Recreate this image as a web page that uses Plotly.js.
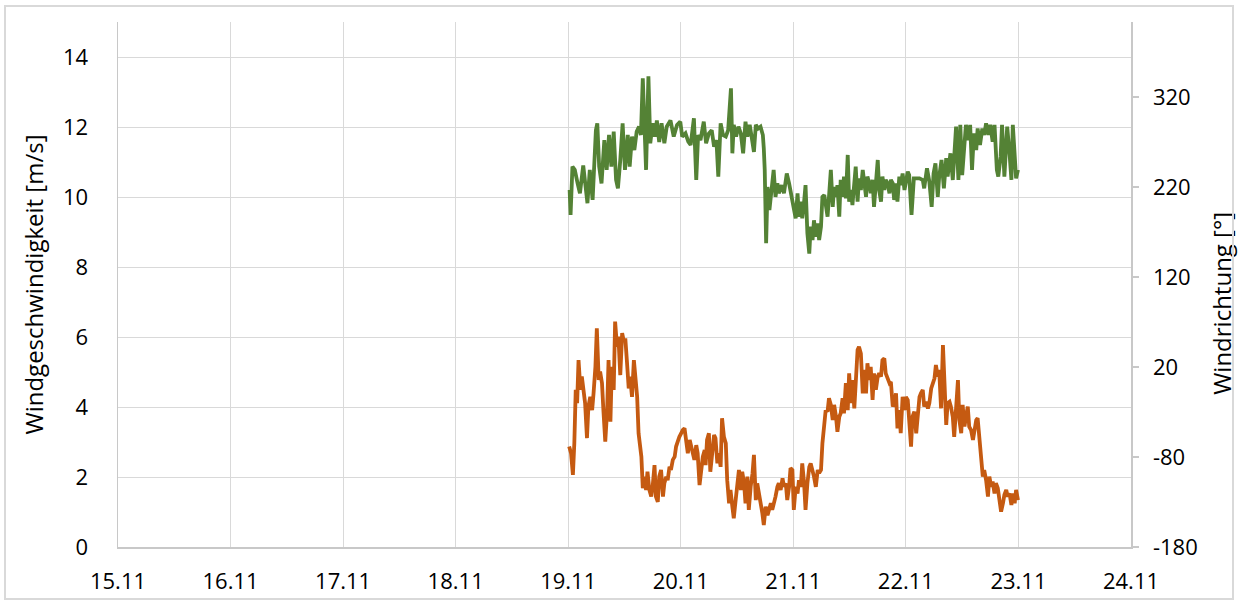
<!DOCTYPE html>
<html>
<head>
<meta charset="utf-8">
<script src="https://cdn.plot.ly/plotly-3.0.1.min.js"></script>
<style>
  html, body { margin: 0; padding: 0; background: #fff; }
  #wrap { position: relative; width: 1238px; height: 604px; }
  #chart { position: absolute; left: 0; top: 0; width: 1238px; height: 604px; }
  #frame { position: absolute; left: 4px; top: 5px; width: 1230px; height: 595px; box-sizing: border-box; border: 2px solid #d9d9d9; pointer-events: none; }
</style>
</head>
<body>
<div id="wrap"><div id="chart"></div><div id="frame"></div></div>
<script>
// Hours since 19.11 00:00 and wind speed [m/s]
const speedHours = [0.2,0.6,1.0,1.3,1.6,1.9,2.2,2.6,2.9,3.3,3.6,4.0,4.3,4.7,5.1,5.4,5.8,6.1,6.5,6.8,7.2,7.5,7.9,8.3,8.6,9.0,9.3,9.7,10.0,10.4,10.7,11.1,11.5,11.8,12.2,12.5,12.9,13.2,13.6,14.0,14.3,14.7,15.0,15.6,15.9,16.2,16.6,16.9,17.3,17.7,18.0,18.4,18.7,19.1,19.4,19.8,20.2,20.5,20.9,21.2,21.6,21.9,22.3,22.7,23.0,23.4,23.7,24.1,24.4,24.8,25.2,25.5,25.9,26.2,26.6,26.9,27.3,27.6,28.0,28.4,28.7,29.1,29.3,29.6,30.0,30.3,30.7,31.1,31.4,31.8,32.1,32.5,32.8,33.2,33.6,33.9,34.3,34.6,35.0,35.3,35.7,36.1,36.4,36.8,37.1,37.5,37.8,38.2,38.5,38.9,39.3,39.6,40.0,40.3,40.7,41.0,41.4,41.7,42.1,42.5,42.8,43.2,43.5,43.9,44.2,44.6,44.9,45.3,45.7,46.0,46.4,46.7,47.1,47.4,47.8,48.1,48.5,48.9,49.2,49.6,49.9,50.3,50.6,51.0,51.4,51.7,52.1,52.4,52.8,53.2,53.5,53.9,54.2,54.6,54.9,55.3,55.6,56.0,56.4,56.7,57.1,57.4,57.8,58.1,58.5,58.8,59.2,59.6,59.9,60.3,60.6,61.0,61.3,61.7,62.0,62.4,62.8,63.1,63.5,63.8,64.2,64.5,64.9,65.2,65.6,66.0,66.3,66.7,67.0,67.4,67.7,68.1,68.5,68.8,69.2,69.5,69.9,70.2,70.6,70.9,71.3,71.7,72.0,72.4,72.7,73.1,73.4,73.8,74.2,74.5,74.9,75.2,75.6,75.9,76.3,76.7,77.0,77.4,77.7,78.1,78.4,78.8,79.1,79.5,79.9,80.2,80.6,80.9,81.3,81.6,82.0,82.3,82.7,83.1,83.4,83.8,84.1,84.5,84.8,85.2,85.5,85.9,86.3,86.6,87.0,87.3,87.7,88.0,88.4,88.7,89.1,89.5,89.8,90.2,90.5,90.9,91.2,91.6,92.0,92.3,92.7,93.0,93.4,93.7,94.1,94.5,94.8,95.2,95.5,95.9];
const speedValues = [2.87,2.68,2.06,2.96,4.49,4.11,5.34,4.49,4.87,4.29,4.11,3.11,4.01,4.29,3.91,4.39,5.15,6.25,4.77,5.01,4.68,3.91,3.01,3.91,5.34,3.58,5.15,4.49,6.44,5.72,6.01,4.91,6.11,5.91,5.91,5.34,4.53,4.87,4.29,5.34,4.87,4.29,3.25,2.58,1.68,2.01,1.63,2.15,1.63,1.44,1.72,2.34,1.44,1.29,2.01,2.2,1.44,1.82,2.01,1.91,2.29,2.2,2.49,2.58,2.87,3.06,3.15,3.25,3.34,3.39,2.87,2.68,3.06,2.87,2.58,2.49,2.91,2.68,1.77,2.29,2.58,2.77,2.34,3.06,3.25,2.15,2.77,3.2,3.11,2.39,2.68,2.29,3.68,3.15,2.96,1.91,1.25,1.63,1.15,0.82,1.34,1.72,2.2,1.63,2.15,1.82,1.25,2.01,1.06,1.72,2.11,2.63,1.34,1.82,1.53,1.34,0.96,0.63,1.15,0.91,1.06,1.25,1.06,1.25,1.44,1.72,1.82,1.63,1.96,1.72,1.82,1.34,1.72,2.25,2.2,1.06,1.72,1.53,1.91,1.72,2.39,1.82,1.06,1.82,2.29,2.39,2.2,2.01,1.72,2.2,2.11,2.2,2.96,3.72,3.91,3.87,4.25,4.06,3.63,4.06,3.72,3.29,3.72,3.82,4.25,3.82,4.68,3.91,4.96,4.11,4.77,3.96,4.77,5.63,5.72,5.53,4.39,5.06,4.39,5.25,4.77,5.15,4.2,4.96,4.49,4.87,4.96,4.87,5.34,5.39,4.96,4.77,4.68,4.72,4.01,4.11,4.39,3.39,3.91,3.25,4.29,3.91,4.29,4.2,3.72,2.87,3.72,3.87,3.25,3.82,4.29,4.39,4.49,4.01,4.15,3.96,4.11,4.53,4.63,4.82,5.2,4.87,5.06,3.96,5.77,4.77,3.49,4.11,4.15,4.01,3.72,3.15,3.82,4.77,3.63,3.25,4.06,3.44,3.72,4.01,3.44,3.34,3.06,3.25,3.63,3.68,3.15,2.77,2.01,2.2,1.91,1.44,2.01,1.72,1.87,1.53,1.82,1.68,1.25,1.01,1.25,1.49,1.63,1.44,1.53,1.2,1.53,1.25,1.63,1.34];

// Hours since 19.11 00:00 and wind direction [°]
const dirHours = [0.3,0.5,0.9,1.4,2.0,2.5,3.2,3.5,4.1,4.6,5.2,5.5,5.9,6.2,6.6,7.1,7.7,8.2,8.7,9.2,9.7,10.2,10.6,11.1,11.6,12.1,12.7,13.1,13.6,14.1,14.6,15.1,15.5,15.9,16.2,16.6,17.1,17.5,18.0,18.5,18.9,19.4,19.9,20.5,21.0,21.8,22.5,23.2,23.9,24.3,25.0,25.6,26.1,26.8,27.3,27.7,28.2,28.9,29.4,30.0,30.6,31.1,31.6,32.0,32.5,33.0,33.6,34.1,34.7,35.0,35.3,35.8,36.3,36.8,37.3,37.8,38.2,38.7,39.1,39.6,40.0,40.5,41.0,41.5,41.7,41.9,42.2,42.5,42.9,43.4,43.8,44.2,44.6,44.9,45.5,46.0,46.6,47.1,47.7,48.1,48.5,48.9,49.2,49.6,49.9,50.3,50.6,51.0,51.4,51.7,52.1,52.4,52.8,53.2,53.5,53.9,54.2,54.6,54.9,55.3,55.6,56.0,56.4,56.7,57.1,57.4,57.8,58.1,58.5,58.8,59.2,59.6,59.9,60.3,60.6,61.0,61.3,61.7,62.0,62.4,62.8,63.1,63.5,63.8,64.2,64.5,64.9,65.2,65.6,66.0,66.3,66.7,67.0,67.4,67.7,68.1,68.5,68.8,69.2,69.5,69.9,70.2,70.6,70.9,71.3,71.7,72.4,72.7,73.2,73.7,74.2,74.9,75.6,75.9,76.5,77.0,77.5,77.9,78.3,78.8,79.1,79.6,80.1,80.6,80.9,81.5,82.0,82.3,82.7,83.2,83.6,84.0,84.5,84.8,85.3,85.7,86.1,86.5,87.0,87.3,87.8,88.3,88.7,89.1,89.6,90.0,90.5,90.9,91.4,91.7,92.2,92.5,93.0,93.6,94.1,94.5,94.8,95.2,95.5,95.9];
const dirValues = [216.7,188.9,242.6,239,224,213,244,228,202,239,205.6,239,283,290.8,242.6,224,272,239,277.8,242.6,281.5,228,218.5,250,290.8,239,277.8,242.6,276,261,281.5,287,277.8,340.7,283,239,343,268.5,290.8,276,294,270,290.8,268.5,287,294,276,289,292.6,276,279.6,270.3,266.7,296.3,227.8,277.8,272,292.6,268.5,279.6,283,264.8,272,231.5,290.8,277.8,276,283,329.6,257.4,289,276,287,279.6,257.4,292.6,276,289,276,259,289,285,287,277.8,263,239,157.4,220,194.4,220,239,209,224,213,222,213,235,224,209,198,185.2,213,187,203.7,185.2,203.7,222,168.5,146,176,161,183,164.8,179.6,161,176,209,211,198,187,209,239,198,220,209,222,187,228,209,231.5,207.4,255.6,203.7,216.7,200,222,242.6,203.7,229.6,216.7,239,226,209,231.5,224,213,228,198,228,250,216.7,203.7,231.5,216.7,228,224,213,228,224,205.6,224,203.7,231.5,222,235,216.7,237,233.3,188.9,229.6,229.6,229.6,227.8,218.5,240.7,226,198,235,246.3,209,231.5,250,218.5,251.9,231.5,257.4,227.8,261,287,227.8,289,233.3,270.3,289,272,289,239,279.6,261,285,266.7,285,277.8,290.8,277.8,289,270.3,289,239,231.5,253.7,289,231.5,287,257.4,227.8,289,248,229.6,239];

// Right-axis tick labels (hyphen minus as in the original)
const dirTickValues = [-180, -80, 20, 120, 220, 320];
const dirTickLabels = ['-180', '-80', '20', '120', '220', '320'];

const startDay = Date.UTC(2021, 10, 19);
const axisStart = Date.UTC(2021, 10, 15);
const axisEnd = Date.UTC(2021, 10, 24);
const HOUR = 3600000;

const toTime = hrs => hrs.map(h => startDay + h * HOUR);

const tickFont = { family: 'Open Sans, sans-serif', size: 22, color: '#000' };
const titleFont = { family: 'Open Sans, sans-serif', size: 24, color: '#000' };

const traces = [
  {
    x: toTime(speedHours), y: speedValues, type: 'scatter', mode: 'lines',
    name: 'Windgeschwindigkeit', line: { color: '#C55A11', width: 3.8 }, yaxis: 'y'
  },
  {
    x: toTime(dirHours), y: dirValues, type: 'scatter', mode: 'lines',
    name: 'Windrichtung', line: { color: '#548235', width: 3.8 }, yaxis: 'y2'
  }
];

const layout = {
  width: 1238, height: 604,
  margin: { l: 118, r: 107, t: 22, b: 57 },
  paper_bgcolor: '#fff', plot_bgcolor: '#fff',
  showlegend: false,
  font: { family: 'Open Sans, sans-serif', color: '#000' },
  xaxis: {
    type: 'date', range: [axisStart, axisEnd], tick0: axisStart, dtick: 86400000,
    tickformat: '%d.%m', showgrid: true, gridcolor: '#d9d9d9', gridwidth: 1,
    showline: true, linecolor: '#c8c8c8', linewidth: 1.5, zeroline: false,
    ticks: '', tickfont: tickFont, ticklabelstandoff: 14
  },
  yaxis: {
    range: [0, 15], tick0: 0, dtick: 2, showgrid: true, gridcolor: '#d9d9d9', gridwidth: 1,
    showline: true, linecolor: '#c8c8c8', linewidth: 1.5, zeroline: false,
    ticks: '', tickfont: tickFont, ticklabelstandoff: 24,
    title: { text: 'Windgeschwindigkeit [m/s]', font: titleFont, standoff: 12 }
  },
  yaxis2: {
    overlaying: 'y', side: 'right', range: [-180, 403.3],
    tickmode: 'array', tickvals: dirTickValues, ticktext: dirTickLabels,
    showgrid: false, showline: true, linecolor: '#c8c8c8', linewidth: 1.5, zeroline: false,
    ticks: 'outside', ticklen: 6, tickcolor: '#c8c8c8', tickwidth: 1.5,
    tickfont: tickFont, ticklabelstandoff: 10
  },
  annotations: [{
    text: 'Windrichtung [°]', textangle: -90, showarrow: false,
    xref: 'paper', yref: 'paper', x: 1.0898, y: 0.465,
    xanchor: 'center', yanchor: 'middle', font: titleFont
  }]
};

Plotly.newPlot('chart', traces, layout, { staticPlot: true, displayModeBar: false });
</script>
</body>
</html>
